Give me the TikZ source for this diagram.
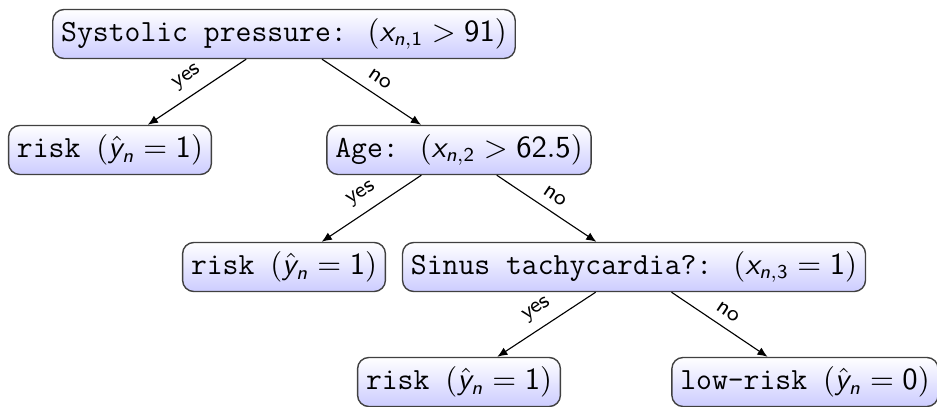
\documentclass[tikz,border=0pt]{standalone}
\usepackage{amsmath}
\usetikzlibrary{arrows.meta}
\DeclareMathAlphabet{\mathsfit}{OT1}{cmss}{m}{sl}
\newcommand\gap{\hspace{7.5pt}}
\newcommand\mm[1]{{\fontsize{10.5}{13}\selectfont$#1$}}
\begin{document}
\begin{tikzpicture}[x=0.3571pt,y=-0.3571pt,
  box/.style={draw=black!75, line width=0.5pt, rounded corners=4pt,
    top color=white, bottom color=blue!20, inner xsep=3pt, inner ysep=2.5pt,
    minimum height=17.5pt, font=\fontsize{11}{12.5}\selectfont\ttfamily},
  conn/.style={-{Latex[length=3.6pt,width=3pt]}, line width=0.4pt},
  lbl/.style={font=\sffamily\footnotesize, sloped, above, midway}]
\useasboundingbox (0,0) rectangle (937,406);
\node[box] (root) at (284,34) {Systolic pressure:\gap\mm{(\mathsfit{x}_{\mathsfit{n},\mathsf{1}} > \mathsf{91})}};
\node[box] (r1) at (110,150) {risk \mm{(\hat{\mathsfit{y}}_{\mathsfit{n}} = \mathsf{1})}};
\node[box] (age) at (459,150) {Age:\gap\mm{(\mathsfit{x}_{\mathsfit{n},\mathsf{2}} > \mathsf{62.5})}};
\node[box] (r2) at (284,267) {risk \mm{(\hat{\mathsfit{y}}_{\mathsfit{n}} = \mathsf{1})}};
\node[box] (sinus) at (634,267) {Sinus tachycardia?:\gap\mm{(\mathsfit{x}_{\mathsfit{n},\mathsf{3}} = \mathsf{1})}};
\node[box] (r3) at (459,382) {risk \mm{(\hat{\mathsfit{y}}_{\mathsfit{n}} = \mathsf{1})}};
\node[box] (low) at (805,382) {low-risk \mm{(\hat{\mathsfit{y}}_{\mathsfit{n}} = \mathsf{0})}};
\draw[conn] (root) -- node[lbl] {yes} (r1);
\draw[conn] (root) -- node[lbl] {no} (age);
\draw[conn] (age) -- node[lbl] {yes} (r2);
\draw[conn] (age) -- node[lbl] {no} (sinus);
\draw[conn] (sinus) -- node[lbl] {yes} (r3);
\draw[conn] (sinus) -- node[lbl] {no} (low);
\end{tikzpicture}
\end{document}
